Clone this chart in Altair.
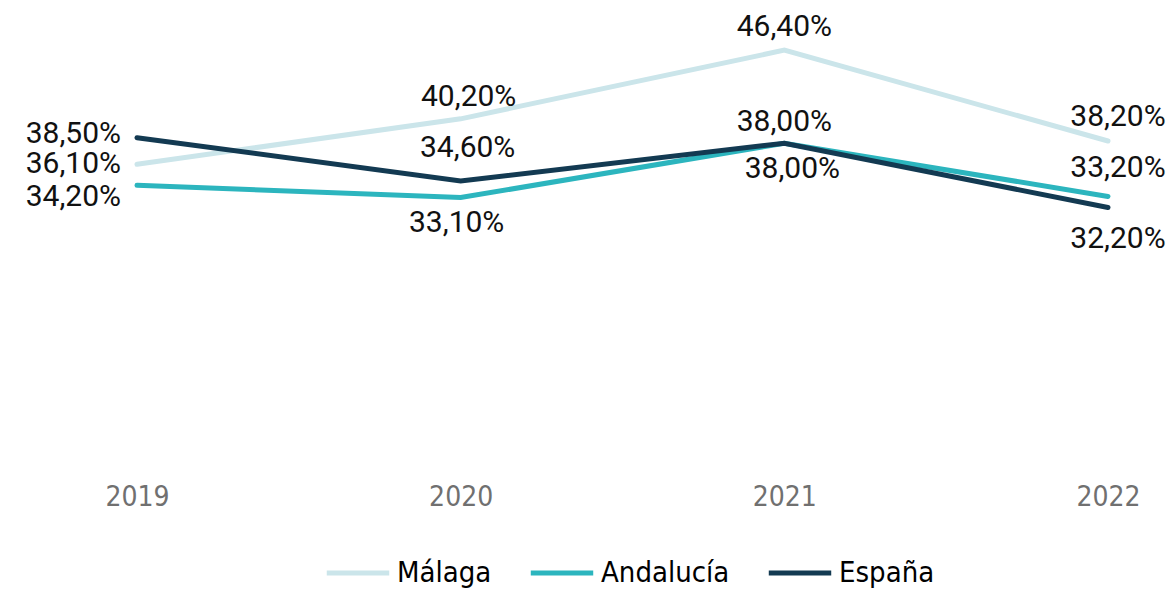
import altair as alt
import pandas as pd

years = ["2019", "2020", "2021", "2022"]
series = ["Málaga", "Andalucía", "España"]
malaga = [36.1, 40.2, 46.4, 38.2]
andalucia = [34.2, 33.1, 38.0, 33.2]
espana = [38.5, 34.6, 38.0, 32.2]
colors = ["#CBE5EA", "#2CB5BE", "#133A52"]

rows = []
for s, vals in zip(series, [malaga, andalucia, espana]):
    for y, v in zip(years, vals):
        rows.append({"year": y, "serie": s, "valor": v,
                     "etiqueta": f"{v:.2f}".replace(".", ",") + "%"})
df = pd.DataFrame(rows)

# label placement (align, dx, dy) per point
placement = {
    ("Málaga", "2019"): ("right", -16, 0),
    ("Málaga", "2020"): ("center", 8, -22),
    ("Málaga", "2021"): ("center", 0, -23),
    ("Málaga", "2022"): ("center", 10, -24),
    ("Andalucía", "2019"): ("right", -16, 12),
    ("Andalucía", "2020"): ("center", -4, 25),
    ("Andalucía", "2021"): ("center", 8, 26),
    ("Andalucía", "2022"): ("center", 10, -28),
    ("España", "2019"): ("right", -16, -4),
    ("España", "2020"): ("center", 7, -33),
    ("España", "2021"): ("center", 0, -21),
    ("España", "2022"): ("center", 10, 31),
}

NARROW = "DejaVu Sans Condensed, Roboto"
H = 584

x_enc = alt.X("year:O",
              scale=alt.Scale(range=[129, 1100], padding=0),
              axis=alt.Axis(title=None, labelAngle=0, ticks=False, domain=False,
                            grid=False, offset=460 - H, labelPadding=15,
                            labelFont=NARROW, labelFontSize=28,
                            labelColor="#707070"))
y_enc = alt.Y("valor:Q", scale=alt.Scale(domain=[8.7, 50.2], range=[460, 0]),
              axis=None)

base = alt.Chart(df)

lines = base.mark_line(strokeWidth=5, strokeCap="round").encode(
    x=x_enc,
    y=y_enc,
    color=alt.Color("serie:N",
                    scale=alt.Scale(domain=series, range=colors),
                    sort=series,
                    legend=alt.Legend(orient="none", legendX=316, legendY=531,
                                      direction="horizontal", title=None,
                                      symbolType="stroke", symbolSize=3900,
                                      symbolStrokeWidth=5, labelFont=NARROW,
                                      labelFontSize=29, labelColor="black",
                                      columnPadding=28, labelOffset=5)),
    order=alt.Order("year:O"),
)

texts = []
for (s, yr), (al, dx, dy) in placement.items():
    t = base.transform_filter(
        (alt.datum.serie == s) & (alt.datum.year == yr)
    ).mark_text(align=al, baseline="middle", dx=dx, dy=dy, font="Roboto",
                fontSize=30, color="#111111").encode(
        x=alt.X("year:O", scale=alt.Scale(range=[129, 1100], padding=0)),
        y=alt.Y("valor:Q", scale=alt.Scale(domain=[8.7, 50.2], range=[460, 0])),
        text="etiqueta:N",
    )
    texts.append(t)

chart = alt.layer(lines, *texts).properties(
    width=1160, height=H,
    autosize=alt.AutoSizeParams(type="none"),
    padding=0,
).configure_view(stroke=None)

chart.save("out.html", embed_options={"renderer": "svg", "actions": False})
